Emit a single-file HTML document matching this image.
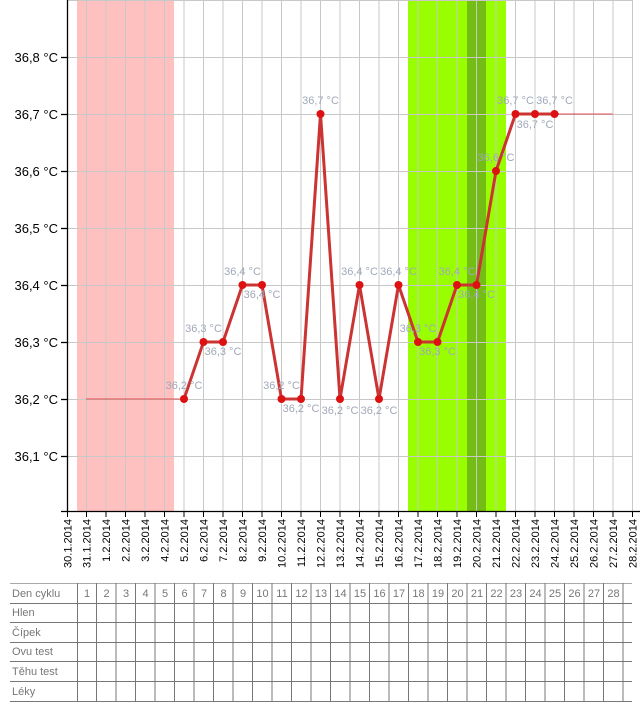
<!DOCTYPE html>
<html><head><meta charset="utf-8"><style>
html,body{margin:0;padding:0;background:#fff;width:640px;height:720px;overflow:hidden}
svg{display:block;font-family:"Liberation Sans",Arial,sans-serif}
</style></head><body>
<svg width="640" height="720" viewBox="0 0 640 720">
<!-- bands -->
<rect x="77" y="0" width="97" height="512" fill="#ffc0c0"/>
<rect x="408" y="0" width="98" height="512" fill="#99ff00"/>
<rect x="467" y="0" width="19" height="512" fill="#74bd14"/>
<!-- grid -->
<g stroke="#c8c8c8" stroke-width="1">
<line x1="67" x2="632" y1="0.5" y2="0.5"/>
<line x1="67" x2="632" y1="57.5" y2="57.5"/>
<line x1="67" x2="632" y1="114.5" y2="114.5"/>
<line x1="67" x2="632" y1="171.5" y2="171.5"/>
<line x1="67" x2="632" y1="228.5" y2="228.5"/>
<line x1="67" x2="632" y1="285.5" y2="285.5"/>
<line x1="67" x2="632" y1="342.5" y2="342.5"/>
<line x1="67" x2="632" y1="399.5" y2="399.5"/>
<line x1="67" x2="632" y1="456.5" y2="456.5"/>
<line x1="86.5" x2="86.5" y1="0" y2="512"/><line x1="106" x2="106" y1="0" y2="512"/><line x1="125.5" x2="125.5" y1="0" y2="512"/><line x1="145" x2="145" y1="0" y2="512"/><line x1="164.5" x2="164.5" y1="0" y2="512"/><line x1="184" x2="184" y1="0" y2="512"/><line x1="203.5" x2="203.5" y1="0" y2="512"/><line x1="223" x2="223" y1="0" y2="512"/><line x1="242.5" x2="242.5" y1="0" y2="512"/><line x1="262" x2="262" y1="0" y2="512"/><line x1="281.5" x2="281.5" y1="0" y2="512"/><line x1="301" x2="301" y1="0" y2="512"/><line x1="320.5" x2="320.5" y1="0" y2="512"/><line x1="340" x2="340" y1="0" y2="512"/><line x1="359.5" x2="359.5" y1="0" y2="512"/><line x1="379" x2="379" y1="0" y2="512"/><line x1="398.5" x2="398.5" y1="0" y2="512"/><line x1="418" x2="418" y1="0" y2="512"/><line x1="437.5" x2="437.5" y1="0" y2="512"/><line x1="457" x2="457" y1="0" y2="512"/><line x1="476.5" x2="476.5" y1="0" y2="512"/><line x1="496" x2="496" y1="0" y2="512"/><line x1="515.5" x2="515.5" y1="0" y2="512"/><line x1="535" x2="535" y1="0" y2="512"/><line x1="554.5" x2="554.5" y1="0" y2="512"/><line x1="574" x2="574" y1="0" y2="512"/><line x1="593.5" x2="593.5" y1="0" y2="512"/><line x1="613" x2="613" y1="0" y2="512"/><line x1="632.5" x2="632.5" y1="0" y2="512"/>
</g>
<!-- axes -->
<g stroke="#000" stroke-width="1.3">
<line x1="67.5" x2="67.5" y1="0" y2="512"/>
<line x1="61" x2="640" y1="511.5" y2="511.5"/>
<line x1="61" x2="67" y1="57.5" y2="57.5"/><line x1="61" x2="67" y1="114.5" y2="114.5"/><line x1="61" x2="67" y1="171.5" y2="171.5"/><line x1="61" x2="67" y1="228.5" y2="228.5"/><line x1="61" x2="67" y1="285.5" y2="285.5"/><line x1="61" x2="67" y1="342.5" y2="342.5"/><line x1="61" x2="67" y1="399.5" y2="399.5"/><line x1="61" x2="67" y1="456.5" y2="456.5"/>
</g>
<g stroke="#000" stroke-width="1">
<line x1="67.5" x2="67.5" y1="511" y2="517"/><line x1="86.5" x2="86.5" y1="511" y2="517"/><line x1="106" x2="106" y1="511" y2="517"/><line x1="125.5" x2="125.5" y1="511" y2="517"/><line x1="145" x2="145" y1="511" y2="517"/><line x1="164.5" x2="164.5" y1="511" y2="517"/><line x1="184" x2="184" y1="511" y2="517"/><line x1="203.5" x2="203.5" y1="511" y2="517"/><line x1="223" x2="223" y1="511" y2="517"/><line x1="242.5" x2="242.5" y1="511" y2="517"/><line x1="262" x2="262" y1="511" y2="517"/><line x1="281.5" x2="281.5" y1="511" y2="517"/><line x1="301" x2="301" y1="511" y2="517"/><line x1="320.5" x2="320.5" y1="511" y2="517"/><line x1="340" x2="340" y1="511" y2="517"/><line x1="359.5" x2="359.5" y1="511" y2="517"/><line x1="379" x2="379" y1="511" y2="517"/><line x1="398.5" x2="398.5" y1="511" y2="517"/><line x1="418" x2="418" y1="511" y2="517"/><line x1="437.5" x2="437.5" y1="511" y2="517"/><line x1="457" x2="457" y1="511" y2="517"/><line x1="476.5" x2="476.5" y1="511" y2="517"/><line x1="496" x2="496" y1="511" y2="517"/><line x1="515.5" x2="515.5" y1="511" y2="517"/><line x1="535" x2="535" y1="511" y2="517"/><line x1="554.5" x2="554.5" y1="511" y2="517"/><line x1="574" x2="574" y1="511" y2="517"/><line x1="593.5" x2="593.5" y1="511" y2="517"/><line x1="613" x2="613" y1="511" y2="517"/><line x1="632.5" x2="632.5" y1="511" y2="517"/>
</g>
<!-- y labels -->
<g font-size="13" fill="#000" text-anchor="end">
<text x="58" y="62">36,8 °C</text><text x="58" y="119">36,7 °C</text><text x="58" y="176">36,6 °C</text><text x="58" y="233">36,5 °C</text><text x="58" y="290">36,4 °C</text><text x="58" y="347">36,3 °C</text><text x="58" y="404">36,2 °C</text><text x="58" y="461">36,1 °C</text>
</g>
<!-- x labels -->
<g font-size="11" fill="#000" text-anchor="end">
<text transform="translate(71.5,519) rotate(-90)">30.1.2014</text>
<text transform="translate(90.5,519) rotate(-90)">31.1.2014</text>
<text transform="translate(110,519) rotate(-90)">1.2.2014</text>
<text transform="translate(129.5,519) rotate(-90)">2.2.2014</text>
<text transform="translate(149,519) rotate(-90)">3.2.2014</text>
<text transform="translate(168.5,519) rotate(-90)">4.2.2014</text>
<text transform="translate(188,519) rotate(-90)">5.2.2014</text>
<text transform="translate(207.5,519) rotate(-90)">6.2.2014</text>
<text transform="translate(227,519) rotate(-90)">7.2.2014</text>
<text transform="translate(246.5,519) rotate(-90)">8.2.2014</text>
<text transform="translate(266,519) rotate(-90)">9.2.2014</text>
<text transform="translate(285.5,519) rotate(-90)">10.2.2014</text>
<text transform="translate(305,519) rotate(-90)">11.2.2014</text>
<text transform="translate(324.5,519) rotate(-90)">12.2.2014</text>
<text transform="translate(344,519) rotate(-90)">13.2.2014</text>
<text transform="translate(363.5,519) rotate(-90)">14.2.2014</text>
<text transform="translate(383,519) rotate(-90)">15.2.2014</text>
<text transform="translate(402.5,519) rotate(-90)">16.2.2014</text>
<text transform="translate(422,519) rotate(-90)">17.2.2014</text>
<text transform="translate(441.5,519) rotate(-90)">18.2.2014</text>
<text transform="translate(461,519) rotate(-90)">19.2.2014</text>
<text transform="translate(480.5,519) rotate(-90)">20.2.2014</text>
<text transform="translate(500,519) rotate(-90)">21.2.2014</text>
<text transform="translate(519.5,519) rotate(-90)">22.2.2014</text>
<text transform="translate(539,519) rotate(-90)">23.2.2014</text>
<text transform="translate(558.5,519) rotate(-90)">24.2.2014</text>
<text transform="translate(578,519) rotate(-90)">25.2.2014</text>
<text transform="translate(597.5,519) rotate(-90)">26.2.2014</text>
<text transform="translate(617,519) rotate(-90)">27.2.2014</text>
<text transform="translate(636.5,519) rotate(-90)">28.2.2014</text>
</g>
<!-- dotted lines -->
<line x1="86.5" x2="184" y1="399" y2="399" stroke="#d22" stroke-width="1.5" stroke-dasharray="1,1"/>
<line x1="554.5" x2="613" y1="114" y2="114" stroke="#d22" stroke-width="1.5" stroke-dasharray="1,1"/>
<!-- series -->
<polyline fill="none" stroke="#cc3333" stroke-width="3" stroke-linejoin="round" points="184,399 203.5,342 223,342 242.5,285 262,285 281.5,399 301,399 320.5,114 340,399 359.5,285 379,399 398.5,285 418,342 437.5,342 457,285 476.5,285 496,171 515.5,114 535,114 554.5,114"/>
<g fill="#dd1111">
<circle cx="184" cy="399" r="4"/><circle cx="203.5" cy="342" r="4"/><circle cx="223" cy="342" r="4"/><circle cx="242.5" cy="285" r="4"/><circle cx="262" cy="285" r="4"/><circle cx="281.5" cy="399" r="4"/><circle cx="301" cy="399" r="4"/><circle cx="320.5" cy="114" r="4"/><circle cx="340" cy="399" r="4"/><circle cx="359.5" cy="285" r="4"/><circle cx="379" cy="399" r="4"/><circle cx="398.5" cy="285" r="4"/><circle cx="418" cy="342" r="4"/><circle cx="437.5" cy="342" r="4"/><circle cx="457" cy="285" r="4"/><circle cx="476.5" cy="285" r="4"/><circle cx="496" cy="171" r="4"/><circle cx="515.5" cy="114" r="4"/><circle cx="535" cy="114" r="4"/><circle cx="554.5" cy="114" r="4"/>
</g>
<!-- point labels -->
<g font-size="11" fill="#a0a8b8" text-anchor="middle">
<text x="184" y="389">36,2 °C</text>
<text x="203.5" y="332">36,3 °C</text>
<text x="223" y="355">36,3 °C</text>
<text x="242.5" y="275">36,4 °C</text>
<text x="262" y="298">36,4 °C</text>
<text x="281.5" y="389">36,2 °C</text>
<text x="301" y="412">36,2 °C</text>
<text x="320.5" y="104">36,7 °C</text>
<text x="340" y="414">36,2 °C</text>
<text x="359.5" y="275">36,4 °C</text>
<text x="379" y="414">36,2 °C</text>
<text x="398.5" y="275">36,4 °C</text>
<text x="418" y="332">36,3 °C</text>
<text x="437.5" y="355">36,3 °C</text>
<text x="457" y="275">36,4 °C</text>
<text x="476.5" y="298">36,4 °C</text>
<text x="496" y="161">36,6 °C</text>
<text x="515.5" y="104">36,7 °C</text>
<text x="535" y="128">36,7 °C</text>
<text x="554.5" y="104">36,7 °C</text>
</g>
<!-- table -->
<g stroke="#777" stroke-width="1">
<line x1="10" x2="632" y1="583.5" y2="583.5" stroke="#aaa"/>
<line x1="10" x2="632" y1="603.5" y2="603.5"/>
<line x1="10" x2="632" y1="622.5" y2="622.5"/>
<line x1="10" x2="632" y1="642.5" y2="642.5"/>
<line x1="10" x2="632" y1="661.5" y2="661.5"/>
<line x1="10" x2="632" y1="681.5" y2="681.5"/>
<line x1="10" x2="632" y1="701.5" y2="701.5"/>
<line x1="77.5" x2="77.5" y1="583" y2="701"/><line x1="96.5" x2="96.5" y1="583" y2="701"/><line x1="116" x2="116" y1="583" y2="701"/><line x1="135.5" x2="135.5" y1="583" y2="701"/><line x1="155" x2="155" y1="583" y2="701"/><line x1="174.5" x2="174.5" y1="583" y2="701"/><line x1="194" x2="194" y1="583" y2="701"/><line x1="213.5" x2="213.5" y1="583" y2="701"/><line x1="233" x2="233" y1="583" y2="701"/><line x1="252.5" x2="252.5" y1="583" y2="701"/><line x1="272" x2="272" y1="583" y2="701"/><line x1="291.5" x2="291.5" y1="583" y2="701"/><line x1="311" x2="311" y1="583" y2="701"/><line x1="330.5" x2="330.5" y1="583" y2="701"/><line x1="350" x2="350" y1="583" y2="701"/><line x1="369.5" x2="369.5" y1="583" y2="701"/><line x1="389" x2="389" y1="583" y2="701"/><line x1="408.5" x2="408.5" y1="583" y2="701"/><line x1="428" x2="428" y1="583" y2="701"/><line x1="447.5" x2="447.5" y1="583" y2="701"/><line x1="467" x2="467" y1="583" y2="701"/><line x1="486.5" x2="486.5" y1="583" y2="701"/><line x1="506" x2="506" y1="583" y2="701"/><line x1="525.5" x2="525.5" y1="583" y2="701"/><line x1="545" x2="545" y1="583" y2="701"/><line x1="564.5" x2="564.5" y1="583" y2="701"/><line x1="584" x2="584" y1="583" y2="701"/><line x1="603.5" x2="603.5" y1="583" y2="701"/><line x1="623" x2="623" y1="583" y2="701"/>
</g>
<g font-size="11" fill="#777">
<text x="12" y="597">Den cyklu</text>
<text x="12" y="616">Hlen</text>
<text x="12" y="636">Čípek</text>
<text x="12" y="655">Ovu test</text>
<text x="12" y="675">Těhu test</text>
<text x="12" y="695">Léky</text>
</g>
<g font-size="11" fill="#777" text-anchor="middle">
<text x="87" y="597">1</text><text x="106.5" y="597">2</text><text x="126" y="597">3</text><text x="145.5" y="597">4</text><text x="165" y="597">5</text><text x="184.5" y="597">6</text><text x="204" y="597">7</text><text x="223.5" y="597">8</text><text x="243" y="597">9</text><text x="262.5" y="597">10</text><text x="282" y="597">11</text><text x="301.5" y="597">12</text><text x="321" y="597">13</text><text x="340.5" y="597">14</text><text x="360" y="597">15</text><text x="379.5" y="597">16</text><text x="399" y="597">17</text><text x="418.5" y="597">18</text><text x="438" y="597">19</text><text x="457.5" y="597">20</text><text x="477" y="597">21</text><text x="496.5" y="597">22</text><text x="516" y="597">23</text><text x="535.5" y="597">24</text><text x="555" y="597">25</text><text x="574.5" y="597">26</text><text x="594" y="597">27</text><text x="613.5" y="597">28</text>
</g>
</svg>
</body></html>
